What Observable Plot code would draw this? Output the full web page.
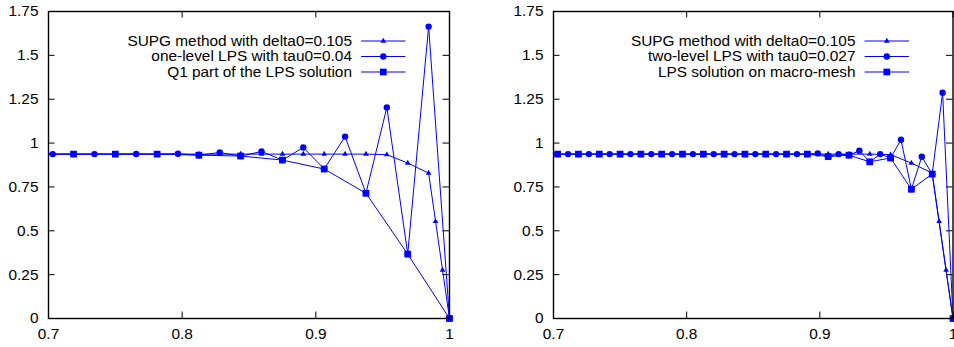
<!DOCTYPE html>
<html><head><meta charset="utf-8">
<script src="https://cdn.jsdelivr.net/npm/d3@7"></script>
<script src="https://cdn.jsdelivr.net/npm/@observablehq/plot@0.6"></script>
<style>
html,body{margin:0;padding:0;background:#fff;overflow:hidden}
#wrap{position:relative;width:954px;height:347px}
.panel{position:absolute;top:0;width:477px;height:347px}
.panel svg{overflow:visible;max-width:none}
</style></head><body><div id="wrap"><div class="panel" id="left" style="left:0"></div><div class="panel" id="right" style="left:477px"></div></div>
<script>
// ---- data ----
const supgX = [0.6875,0.703125,0.71875,0.734375,0.75,0.765625,0.78125,0.796875,0.8125,0.828125,0.84375,0.859375,0.875,0.890625,0.90625,0.921875,0.9375,0.953125,0.96875,0.984375,0.989583,0.994792,1];
const supgY = [0.937,0.937,0.937,0.937,0.937,0.937,0.937,0.937,0.937,0.937,0.937,0.937,0.937,0.937,0.937,0.937,0.937,0.934,0.886,0.829,0.553,0.276,0];

const lps1X = [0.6875,0.703125,0.71875,0.734375,0.75,0.765625,0.78125,0.796875,0.8125,0.828125,0.84375,0.859375,0.875,0.890625,0.90625,0.921875,0.9375,0.953125,0.96875,0.984375,1];
const lps1Y = [0.937,0.937,0.937,0.937,0.937,0.938,0.937,0.939,0.931,0.946,0.926,0.952,0.903,0.975,0.852,1.037,0.714,1.203,0.367,1.664,0];

const q1X = [0.6875,0.71875,0.75,0.78125,0.8125,0.84375,0.875,0.90625,0.9375,0.96875,1];
const q1Y = [0.937,0.937,0.937,0.937,0.931,0.926,0.903,0.852,0.714,0.367,0];

const lps2X = [0.6953125,0.703125,0.7109375,0.71875,0.7265625,0.734375,0.7421875,0.75,0.7578125,0.765625,0.7734375,0.78125,0.7890625,0.796875,0.8046875,0.8125,0.8203125,0.828125,0.8359375,0.84375,0.8515625,0.859375,0.8671875,0.875,0.8828125,0.890625,0.8984375,0.90625,0.9140625,0.921875,0.9296875,0.9375,0.9453125,0.953125,0.9609375,0.96875,0.9765625,0.984375,0.9921875,1];
const lps2Y = [0.937,0.937,0.937,0.937,0.937,0.937,0.937,0.937,0.937,0.937,0.937,0.937,0.937,0.937,0.937,0.937,0.937,0.937,0.937,0.937,0.937,0.937,0.937,0.937,0.937,0.937,0.941,0.923,0.937,0.931,0.956,0.893,0.937,0.915,1.019,0.737,0.922,0.823,1.287,0];

const macroX = [0.6875,0.703125,0.71875,0.734375,0.75,0.765625,0.78125,0.796875,0.8125,0.828125,0.84375,0.859375,0.875,0.890625,0.90625,0.921875,0.9375,0.953125,0.96875,0.984375,1];
const macroY = [0.937,0.937,0.937,0.937,0.937,0.937,0.937,0.937,0.937,0.937,0.937,0.937,0.937,0.937,0.923,0.931,0.893,0.915,0.737,0.823,0];

const xTicks = [0.7, 0.8, 0.9, 1];
const xTickLabels = ["0.7", "0.8", "0.9", "1"];
const yTicks = [0, 0.25, 0.5, 0.75, 1, 1.25, 1.5, 1.75];
const yTickLabels = ["0", "0.25", "0.5", "0.75", "1", "1.25", "1.5", "1.75"];

const legendLeft = ["SUPG method with delta0=0.105", "one-level LPS with tau0=0.04", "Q1 part of the LPS solution"];
const legendRight = ["SUPG method with delta0=0.105", "two-level LPS with tau0=0.027", "LPS solution on macro-mesh"];
const seriesSymbols = ["triangle", "circle", "square"];
const seriesRadius = [2.1, 3.2, 3.8];

// ---- drawing ----
const BLUE = "#0000ff";
const FONT = "'Liberation Sans', Arial, Helvetica, sans-serif";
const W = 477, H = 347, MT = 11, MB = 29;
const rowDy = [29.5, 45, 60.5];
const lineSym = {draw(ctx) { ctx.moveTo(-22.2, 0); ctx.lineTo(22.2, 0); }};

function table(xs, ys) { return xs.map((x, i) => ({x, y: ys[i]})); }

function panel(series, labels, ml, mr) {
  const pw = W - ml - mr, ph = H - MT - MB;
  const marks = [];
  series.forEach((s, k) => {
    const data = table(s[0], s[1]);
    marks.push(Plot.line(data, {x: "x", y: "y", stroke: BLUE, strokeWidth: 1, clip: true}));
    marks.push(Plot.dot(data.filter(d => d.x >= 0.7 && d.x <= 1), {x: "x", y: "y", symbol: seriesSymbols[k], r: seriesRadius[k], fill: BLUE, stroke: "none"}));
  });
  // legend
  labels.forEach((lab, k) => {
    marks.push(Plot.text([lab], {frameAnchor: "top-right", text: d => d, textAnchor: "end", lineAnchor: "middle", dx: -97.5, dy: rowDy[k], fill: "black", fontSize: 15.4}));
    marks.push(Plot.dot([lab], {frameAnchor: "top-right", dx: -66.2, dy: rowDy[k], symbol: lineSym, r: 5, stroke: BLUE, strokeWidth: 1, fill: "none"}));
    marks.push(Plot.dot([lab], {frameAnchor: "top-right", dx: -66.2, dy: rowDy[k], symbol: seriesSymbols[k], r: seriesRadius[k], fill: BLUE, stroke: "none"}));
  });
  // frame and inward ticks on all sides
  marks.push(Plot.frame({stroke: "black", strokeWidth: 1.4}));
  marks.push(Plot.tickY(yTicks, {y: d => d, insetRight: pw - 6.5, stroke: "black", strokeWidth: 1}));
  marks.push(Plot.tickY(yTicks, {y: d => d, insetLeft: pw - 6.5, stroke: "black", strokeWidth: 1}));
  marks.push(Plot.tickX(xTicks, {x: d => d, insetTop: ph - 6.5, stroke: "black", strokeWidth: 1}));
  marks.push(Plot.tickX(xTicks, {x: d => d, insetBottom: ph - 6.5, stroke: "black", strokeWidth: 1}));
  marks.push(Plot.axisY(yTicks, {tickSize: 0, tickPadding: 10, tickFormat: d => yTickLabels[yTicks.indexOf(d)], label: null, fill: "black"}));
  marks.push(Plot.axisX(xTicks, {tickSize: 0, tickPadding: 10, tickFormat: d => xTickLabels[xTicks.indexOf(d)], label: null, fill: "black"}));
  return Plot.plot({
    width: W, height: H,
    marginLeft: ml, marginRight: mr, marginTop: MT, marginBottom: MB,
    x: {domain: [0.7, 1], axis: null},
    y: {domain: [0, 1.75], axis: null},
    style: {fontFamily: FONT, fontSize: "15.4px", background: "white", color: "black", overflow: "visible"},
    marks
  });
}

document.getElementById("left").appendChild(panel(
  [[supgX, supgY], [lps1X, lps1Y], [q1X, q1Y]], legendLeft, 48, 28));
document.getElementById("right").appendChild(panel(
  [[supgX, supgY], [lps2X, lps2Y], [macroX, macroY]], legendRight, 76, 1.5));
</script></body></html>
